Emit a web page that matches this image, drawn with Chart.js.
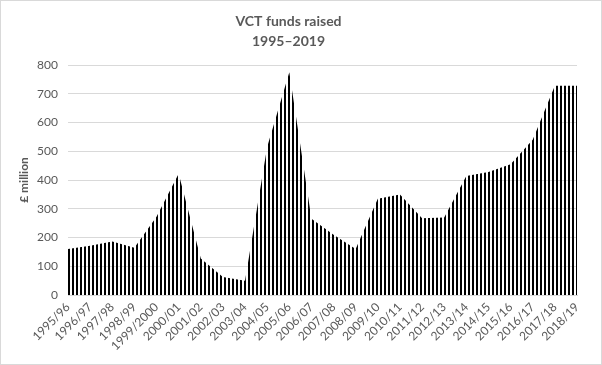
<!DOCTYPE html>
<html>
<head>
<meta charset="utf-8">
<script src="https://cdn.jsdelivr.net/npm/chart.js@4/dist/chart.umd.min.js"></script>
<style>
  html, body { margin: 0; padding: 0; background: #ffffff; }
  #c { display: block; }
</style>
</head>
<body>
<canvas id="c" width="602" height="365"></canvas>
<script>
const categories = ['1995/96','1996/97','1997/98','1998/99','1999/2000','2000/01','2001/02','2002/03','2003/04','2004/05','2005/06','2006/07','2007/08','2008/09','2009/10','2010/11','2011/12','2012/13','2013/14','2014/15','2015/16','2016/17','2017/18','2018/19'];
const fundsRaised = [160, 171, 186, 164, 272, 422, 127, 63, 50, 515, 775, 265, 210, 160, 335, 350, 267, 270, 414, 428, 455, 540, 728, 728];
const yTicks = [0, 100, 200, 300, 400, 500, 600, 700, 800];
const titleLines = ['VCT funds raised', '1995\u20132019'];
const yTitle = '\u00a3 million';

const FONT = "Lato, 'Noto Sans', sans-serif";
const TEXT = '#595959';
const GRID = '#d9d9d9';

// vertical stripe pattern (dark vertical)
const pc = document.createElement('canvas');
pc.width = 4; pc.height = 4;
const pctx = pc.getContext('2d');
pctx.fillStyle = '#000000';
pctx.fillRect(0, 0, 2, 4);
const ctx = document.getElementById('c').getContext('2d');
const stripes = ctx.createPattern(pc, 'repeat');

const borderPlugin = {
  id: 'outerBorder',
  afterDraw(chart) {
    const c = chart.ctx;
    c.save();
    c.strokeStyle = GRID;
    c.lineWidth = 1;
    c.strokeRect(0.5, 0.5, chart.width - 1, chart.height - 1);
    c.restore();
  }
};

new Chart(ctx, {
  type: 'line',
  data: {
    labels: categories,
    datasets: [{
      data: fundsRaised,
      fill: 'origin',
      backgroundColor: stripes,
      borderColor: 'rgba(0,0,0,0)',
      borderWidth: 0,
      pointRadius: 0,
      tension: 0
    }]
  },
  options: {
    responsive: false,
    animation: false,
    layout: { padding: { left: 0, right: 25, top: 0, bottom: 0 } },
    plugins: {
      legend: { display: false },
      tooltip: { enabled: false },
      title: {
        display: true,
        text: titleLines,
        color: TEXT,
        font: { family: FONT, size: 14, weight: 'bold', lineHeight: 1.43 },
        padding: { top: 11, bottom: 14 }
      }
    },
    scales: {
      x: {
        type: 'category',
        offset: false,
        grid: { display: false, drawTicks: false },
        border: { display: true, color: GRID },
        ticks: {
          color: TEXT,
          font: { family: FONT, size: 12 },
          minRotation: 45,
          maxRotation: 45,
          autoSkip: false,
          padding: 5
        },
        afterFit(scale) { scale.height = 70; }
      },
      y: {
        min: 0,
        max: 800,
        afterBuildTicks(scale) { scale.ticks = yTicks.map(v => ({ value: v })); },
        grid: { color: GRID, drawTicks: false },
        border: { display: false },
        ticks: {
          color: TEXT,
          font: { family: FONT, size: 12 },
          padding: 10
        },
        title: {
          display: true,
          text: yTitle,
          color: TEXT,
          font: { family: FONT, size: 12, weight: 'bold' },
          padding: { top: 17, bottom: 0 }
        },
        afterFit(scale) { scale.width = 68; }
      }
    }
  },
  plugins: [borderPlugin]
});
</script>
</body>
</html>
